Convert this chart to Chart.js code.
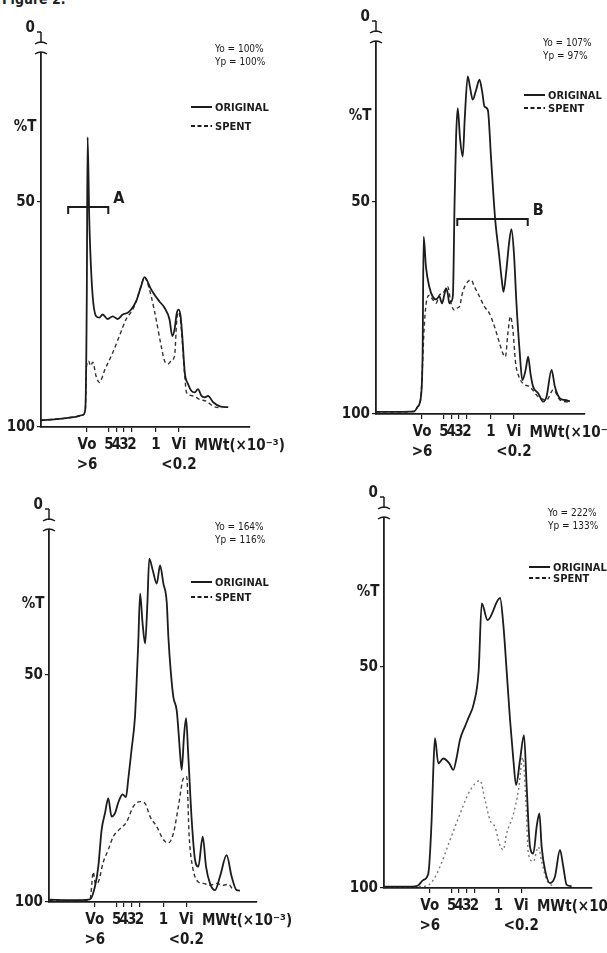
<!DOCTYPE html>
<html>
<head>
<meta charset="utf-8">
<script src="https://cdn.jsdelivr.net/npm/chart.js@4.4.1/dist/chart.umd.min.js"></script>
<style>
  body { margin: 0; background: #fff; width: 607px; height: 953px; overflow: hidden; position: relative; }
  canvas { position: absolute; }
  #fig { position: absolute; left: 2px; top: -9px; font: bold 14px 'Liberation Sans Narrow', 'DejaVu Sans Condensed', sans-serif; color: #222; }
</style>
</head>
<body>
<div id="fig">Figure 2.</div>
<canvas id="c1" width="300" height="476" style="left:0;top:0"></canvas>
<canvas id="c2" width="307" height="476" style="left:300px;top:0"></canvas>
<canvas id="c3" width="300" height="477" style="left:0;top:476px"></canvas>
<canvas id="c4" width="307" height="477" style="left:300px;top:476px"></canvas>
<script>
// elution position (0-100 along the axis) and %T
const tickPos = [22, 32.5, 36, 39.7, 43.5, 55, 66]
const tickLabels = ['Vo', '5', '4', '3', '2', '1', 'Vi']
const tickSubLabels = ['>6', '', '', '', '', '', '<0.2']
const yTicks = [50, 100]
const yieldLines = [
  ['Yo = 100%', 'Yp = 100%'],
  ['Yo = 107%', 'Yp = 97%'],
  ['Yo = 164%', 'Yp = 116%'],
  ['Yo = 222%', 'Yp = 133%']
]
const seriesNames = ['ORIGINAL', 'SPENT']

const p1Original = [[0,98.5],[8.7,98.2],[15.9,97.8],[20.2,97.3],[21.2,96],[21.9,71.7],[22.3,35.6],[23.1,54],[24.5,69.5],[26.4,75.4],[27.9,75.7],[29.5,75],[31.9,76],[34.3,75.4],[36.7,76],[39.1,75],[41.5,74.6],[43.1,73.9],[45.5,72.1],[47.9,68.7],[49.5,66.7],[50.6,67.3],[52.3,69.1],[54.3,70.6],[56.7,72.1],[59.1,73.5],[61.5,76.1],[62.8,79.8],[63.9,78.3],[65,74.6],[65.9,73.9],[66.8,75.4],[67.6,79.8],[68.8,87.9],[70.4,90.5],[72,92],[73.6,92.3],[75.1,91.6],[76.8,93.1],[78.4,93.4],[79.9,93.1],[82.4,94.5],[85.6,95.4],[89.6,95.6]]
const p1Spent = [[0,98.5],[8.7,98.2],[15.9,97.8],[20.2,97.3],[21.2,96],[21.8,86.4],[22.8,85.3],[23.7,86.4],[24.8,85.6],[26.3,88.6],[27.9,90.1],[30.6,87.2],[34.3,83.5],[37.5,79.8],[40.7,76.1],[43.9,73.9],[45.5,72.1],[47.9,68.7],[49.5,66.7],[50.6,67.5],[52.7,70.9],[55.1,76.1],[57.5,82],[59.1,85.3],[60.7,86],[62.3,85.3],[63.9,84.2],[65,76],[65.9,74.5],[66.8,76.5],[67.6,81],[68.8,88.7],[69.6,92.3],[72.8,93.1],[76,93.9],[79.2,94.3],[82.4,95.4],[86.4,95.8]]

const p2Original = [[0,99.5],[10,99.5],[18.3,99.4],[19.9,98.3],[21.5,95.9],[22.3,85.7],[22.8,58.2],[23.9,65.3],[25.5,70],[27.1,72.3],[28.7,73],[30.3,72.3],[31.6,73.9],[32.7,71.9],[33.5,70.4],[34.3,71.5],[35.1,73.9],[35.9,73.5],[36.8,72],[37.6,50],[38.3,35],[39.1,27.9],[40.2,35],[41.5,39.3],[42.5,30],[43.9,20.4],[45,23],[46.3,25.9],[47.9,23.6],[49.5,21.2],[50.8,24],[51.9,27.5],[53.5,28.3],[55.1,40.1],[57,54],[58.8,62],[60.2,68.5],[61,71.2],[62.4,66],[63.6,60],[64.8,56.4],[66,62.1],[67.2,73.9],[68.8,85.7],[70,92],[71.6,89.6],[72.8,86.5],[73.9,90.4],[75.2,93.6],[77.6,95.1],[80,97.1],[81.6,95.9],[84,89.6],[85.6,93.6],[88,96.3],[90.4,96.7],[92.8,97]]
const p2Spent = [[0,99.5],[10,99.5],[18.3,99.4],[19.9,98.3],[21.5,96],[22.3,88],[23,80],[24,74],[25.5,72],[27.1,73],[28.7,73.9],[30.3,72],[31.9,71.5],[33.5,70.5],[34.3,70],[35.9,73.9],[37.5,75.5],[38.3,75.1],[39.9,74.7],[41.5,71.2],[43.9,68.8],[45.5,68.4],[47.1,70],[49.5,72.3],[51.9,74.7],[54.3,76.3],[56.7,79.4],[59.1,83.3],[60.7,85.7],[61.9,86.5],[63.1,81],[64.3,77],[65.5,80.2],[66.8,88],[68.4,91.2],[70.3,92.8],[73.6,93.6],[77.6,95.9],[81.6,96.7],[84.8,94.3],[88,96.7],[92,97.2]]

const p3Original = [[0,99.5],[10,99.6],[19.7,99.4],[22.1,96.6],[23.7,92.2],[25.3,84.1],[26.9,80.5],[28.5,77.2],[30.1,81.2],[31.7,80.5],[33.3,78.1],[35.4,76.3],[37,76.9],[38.1,73],[39.7,66.4],[41.3,59.5],[42.1,51.9],[42.9,43.1],[43.8,32.1],[45,38.7],[46.2,43.1],[47.3,34.3],[48.2,24.4],[49.9,27],[51.8,29.9],[53.4,25.9],[55,29.9],[56.6,34],[57.4,41.7],[58.5,49],[59.8,54.9],[61.4,57.8],[62.2,62.1],[63,67.2],[63.8,70.9],[64.9,63.5],[65.9,59.5],[66.9,67.2],[68.6,81.9],[70.2,90.7],[71.8,92.2],[73.9,85.6],[75.5,92.2],[77.4,95.9],[79.8,97.4],[82.2,94.4],[85.4,89.7],[87.8,94.4],[90.2,97.4],[91.8,97.5]]
const p3Spent = [[0,99.6],[10,99.7],[19.7,99.5],[21.3,93.4],[22.3,96],[23.7,95.6],[26.1,91.2],[28.5,88.5],[30.9,85.6],[34.1,83.9],[37.3,82.4],[40.5,79],[43.8,77.9],[46.2,78.3],[48.6,81.2],[51.8,83.4],[55,86.3],[57.4,87],[59.8,84.9],[62.2,79],[64.6,72.8],[66.2,72.4],[67.4,85.6],[69,92.2],[71.8,95.6],[74.2,95.9],[77.4,96.3],[80.6,95.9],[83.8,96.3],[86.2,96.1],[88.6,97.4]]

const p4Original = [[0,99.7],[10,99.7],[16,99.5],[18.9,98.2],[21.3,96.7],[22.9,84.6],[23.7,73.3],[24.5,66.1],[26.1,71.8],[28.5,70.7],[31.4,71.8],[33.3,73.3],[35,70.3],[36.5,66.5],[38.9,63.5],[40.7,61.4],[43.1,58.4],[45.5,50.9],[47,35.6],[49.8,39.4],[55.8,34.4],[57.4,40.6],[59,51.1],[60.6,62],[62.2,71],[63.5,76.7],[65.4,71],[67.3,65.4],[68.6,77.1],[70.2,90.7],[71.8,92.2],[73.4,86.1],[74.7,83.1],[75.8,90.7],[77.4,95.9],[79.8,98.9],[82.2,97.4],[84.6,91.4],[86.2,95.2],[87.8,99.3],[90.2,99.6]]
const p4Spent = [[0,99.7],[10,99.7],[20,99.6],[23.7,98.2],[26.9,95.2],[31.7,89.2],[36.5,83.3],[41.3,78],[46.2,75.7],[48.6,80.2],[51,84.7],[53.4,86.2],[55.5,90],[57.4,91.4],[58.9,87.8],[62.2,83.3],[64.6,78],[66.7,70.5],[68.3,81.2],[69.4,92.2],[71.8,94],[74.2,90.7],[75.8,94],[78.2,98.2],[81.4,99.6]]

// brackets drawn across peaks: elution range and %T level
const bracketA = {from: 13, to: 32.2, at: 51.1, label: 'A'}
const bracketB = {from: 38.9, to: 72.6, at: 54, label: 'B'}

const FONT = "'Liberation Sans Narrow', 'DejaVu Sans Condensed', 'Arial Narrow', sans-serif"
const INK = '#1c1c1c'

const decor = {
  id: 'decor',
  afterDraw(chart, args, o) {
    const {ctx, chartArea: a, scales: {x, y}} = chart
    ctx.save()
    ctx.strokeStyle = INK
    ctx.fillStyle = INK
    ctx.lineWidth = 1.5

    // broken axis up to 0
    const zy = a.top - 21
    ctx.beginPath()
    ctx.moveTo(a.left, a.top - 10); ctx.lineTo(a.left, zy)
    ctx.moveTo(a.left - 4, zy); ctx.lineTo(a.left, zy)
    ctx.moveTo(a.left - 6, a.top - 9); ctx.quadraticCurveTo(a.left, a.top - 13, a.left + 6, a.top - 9)
    ctx.moveTo(a.left - 6, a.top + 1); ctx.quadraticCurveTo(a.left, a.top - 3, a.left + 6, a.top + 1)
    ctx.stroke()

    ctx.font = 'bold 15px ' + FONT
    ctx.textBaseline = 'middle'
    ctx.textAlign = 'right'
    ctx.fillText('0', a.left - 6, a.top - 25)
    ctx.textAlign = 'center'
    ctx.fillText('%T', a.left - 16, a.top + 74)

    // molecular weight label after Vi
    ctx.textAlign = 'left'
    ctx.fillText('MWt(\u00d710\u207b\u00b3)', x.getPixelForValue(73.5), a.bottom + 19)

    // yields
    ctx.font = '10px ' + FONT
    ctx.fillText(o.yields[0], a.right + o.yoDx, a.top + o.yoDy)
    ctx.fillText(o.yields[1], a.right + o.yoDx, a.top + o.yoDy + 13)

    // legend
    ctx.font = 'bold 11px ' + FONT
    const lx = a.right + o.lgDx
    for (let i = 0; i < 2; i++) {
      const ly = a.top + o.lgDy + i * o.lgGap
      ctx.beginPath()
      ctx.lineWidth = 2
      ctx.setLineDash(i ? [4, 2.5] : [])
      ctx.moveTo(lx - 24, ly); ctx.lineTo(lx - 3, ly)
      ctx.stroke()
      ctx.setLineDash([])
      ctx.fillText(o.names[i], lx, ly + 1)
    }

    if (o.bracket) {
      const b = o.bracket
      const by = y.getPixelForValue(b.at)
      const x1 = x.getPixelForValue(b.from)
      const x2 = x.getPixelForValue(b.to)
      ctx.lineWidth = 2
      ctx.beginPath()
      ctx.moveTo(x1, by + 7); ctx.lineTo(x1, by); ctx.lineTo(x2, by); ctx.lineTo(x2, by + 7)
      ctx.stroke()
      ctx.font = 'bold 16px ' + FONT
      ctx.fillText(b.label, x2 + 5, by - 8)
    }
    ctx.restore()
  }
}

const panels = [
  {id: 'c1', w: 300, h: 476, left: 41, top: 53, right: 250, bottom: 427, yMin: 16.9,
   original: p1Original, spent: p1Spent, yields: yieldLines[0], bracket: bracketA,
   yoDx: -35, yoDy: -4, lgDx: -35, lgDy: 54, lgGap: 19, spentDash: [4, 3]},
  {id: 'c2', w: 307, h: 476, left: 76, top: 42, right: 285, bottom: 414, yMin: 12.3,
   original: p2Original, spent: p2Spent, yields: yieldLines[1], bracket: bracketB,
   yoDx: -42, yoDy: 1, lgDx: -37, lgDy: 53, lgGap: 13, spentDash: [4, 3]},
  {id: 'c3', w: 300, h: 477, left: 49, top: 54, right: 257, bottom: 426, yMin: 18.1,
   original: p3Original, spent: p3Spent, yields: yieldLines[2], bracket: null,
   yoDx: -42, yoDy: -3, lgDx: -42, lgDy: 52, lgGap: 15, spentDash: [4, 3]},
  {id: 'c4', w: 307, h: 477, left: 84, top: 42, right: 292, bottom: 412, yMin: 16.3,
   original: p4Original, spent: p4Spent, yields: yieldLines[3], bracket: null,
   yoDx: -44, yoDy: -5, lgDx: -39, lgDy: 49, lgGap: 11, spentDash: [2, 3]}
]

panels.forEach(p => {
  new Chart(document.getElementById(p.id), {
    type: 'line',
    data: {
      datasets: [{
        label: seriesNames[0],
        data: p.original,
        borderColor: INK,
        borderWidth: 1.8,
        pointRadius: 0,
        cubicInterpolationMode: 'monotone',
        fill: false
      }, {
        label: seriesNames[1],
        data: p.spent,
        borderColor: p.id === 'c4' ? '#7a7a7a' : '#333',
        borderWidth: 1.4,
        borderDash: p.spentDash,
        pointRadius: 0,
        cubicInterpolationMode: 'monotone',
        fill: false
      }]
    },
    options: {
      responsive: false,
      animation: false,
      events: [],
      layout: {
        autoPadding: false,
        padding: {left: 0, top: p.top, right: p.w - p.right, bottom: 0}
      },
      scales: {
        x: {
          type: 'linear',
          min: 0,
          max: 100,
          afterBuildTicks: s => { s.ticks = tickPos.map(v => ({value: v})) },
          afterFit: s => { s.height = p.h - p.bottom },
          grid: {drawOnChartArea: false, tickLength: 5, color: INK, lineWidth: 1.2},
          border: {color: INK, width: 1.8},
          ticks: {
            autoSkip: false,
            maxRotation: 0,
            minRotation: 0,
            padding: 3,
            color: INK,
            font: {family: FONT, size: 15, weight: 'bold', lineHeight: 1.35},
            callback: (v, i) => tickSubLabels[i] ? [tickLabels[i], tickSubLabels[i]] : tickLabels[i]
          }
        },
        y: {
          type: 'linear',
          reverse: true,
          min: p.yMin,
          max: 100,
          afterBuildTicks: s => { s.ticks = yTicks.map(v => ({value: v})) },
          afterFit: s => { s.width = p.left },
          grid: {drawOnChartArea: false, tickLength: 4, color: INK, lineWidth: 1.2},
          border: {color: INK, width: 1.8},
          ticks: {
            padding: 2,
            color: INK,
            font: {family: FONT, size: 15, weight: 'bold'}
          }
        }
      },
      plugins: {
        legend: {display: false},
        tooltip: {enabled: false},
        decor: {
          yields: p.yields, names: seriesNames, bracket: p.bracket,
          yoDx: p.yoDx, yoDy: p.yoDy, lgDx: p.lgDx, lgDy: p.lgDy, lgGap: p.lgGap
        }
      }
    },
    plugins: [decor]
  })
})
</script>
</body>
</html>
